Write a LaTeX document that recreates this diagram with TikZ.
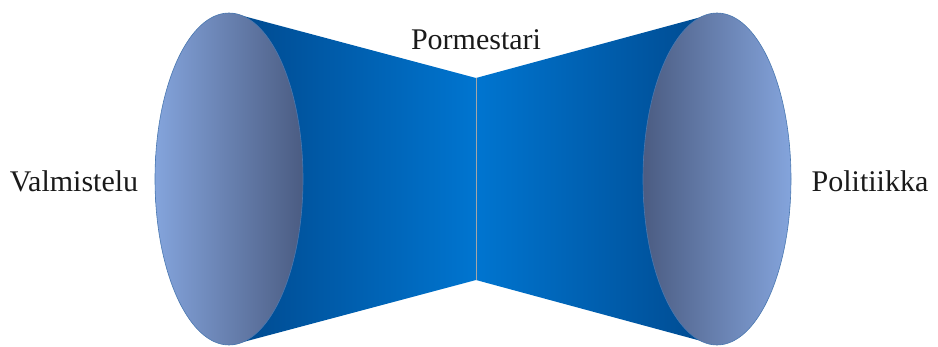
\documentclass[tikz,border=0pt]{standalone}
\usepackage{fontspec}
\setmainfont{Liberation Serif}
\usetikzlibrary{shapes.geometric}
\definecolor{ellLight}{HTML}{84A4DC}
\definecolor{ellDark}{HTML}{4B5C82}
\definecolor{ellEdge}{HTML}{4A78B0}
\definecolor{funDark}{HTML}{00498E}
\definecolor{funBright}{HTML}{0075D0}
\definecolor{txt}{HTML}{1A1A1A}
\tikzset{
  cone/.style={draw=none},
  endcap/.style={ellipse, draw=ellEdge, line width=0.6pt, minimum width=148pt, minimum height=332pt, inner sep=0pt},
  lbl/.style={text=txt, font=\fontsize{30}{33}\selectfont, inner sep=0pt}
}
\begin{document}
\begin{tikzpicture}[x=1pt,y=-1pt]
\useasboundingbox (0,0) rectangle (938,346);
% named coordinates
\coordinate (lt) at (232,13);
\coordinate (lb) at (232,345);
\coordinate (ct) at (476,78);
\coordinate (cb) at (476,280);
\coordinate (rt) at (716,13);
\coordinate (rb) at (716,345);
% funnels
\shade[cone, left color=funDark, right color=funBright] (lt) -- (ct) -- (cb) -- (lb) -- cycle;
\shade[cone, left color=funBright, right color=funDark] (ct) -- (rt) -- (rb) -- (cb) -- cycle;
\draw[color=gray!70, line width=0.6pt] (ct) -- (cb);
% end ellipses
\node[endcap, left color=ellLight, right color=ellDark] (L) at (229,179) {};
\node[endcap, left color=ellDark, right color=ellLight] (R) at (717,179) {};
% labels
\node[lbl] (pm) at (476,40) {Pormestari};
\node[lbl] (va) at (74,181) {Valmistelu};
\node[lbl] (po) at (870,181) {Politiikka};
\end{tikzpicture}
\end{document}
